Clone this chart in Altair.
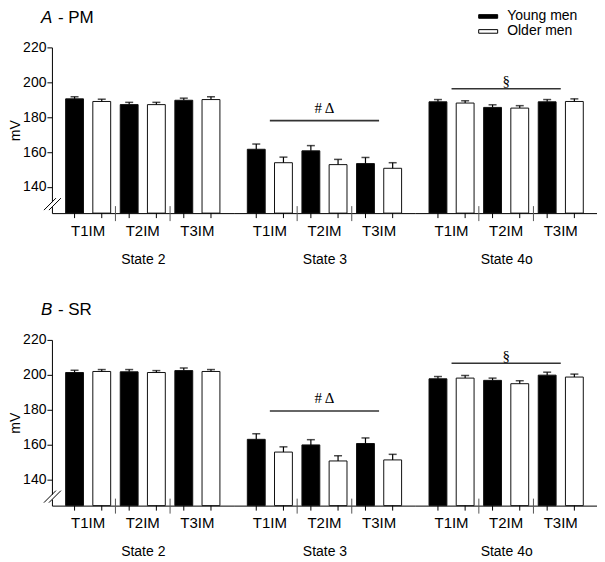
import altair as alt
import pandas as pd

times = ["T1IM", "T2IM", "T3IM"]
states = ["State 2", "State 3", "State 4o"]
groups = ["Young men", "Older men"]

# Panel A - PM  (rows: State 2, State 3, State 4o ; cols: T1IM, T2IM, T3IM)
pm_young_mean = [[190.5, 187.2, 189.7], [161.6, 160.7, 153.4], [188.8, 185.6, 188.8]]
pm_young_sem = [[1.2, 1.3, 1.2], [3.0, 3.0, 3.5], [1.3, 1.5, 1.3]]
pm_older_mean = [[189.0, 187.2, 190.1], [153.9, 152.8, 150.7], [188.1, 185.2, 189.0]]
pm_older_sem = [[1.3, 1.3, 1.6], [3.2, 3.0, 3.2], [1.3, 1.4, 1.5]]

# Panel B - SR
sr_young_mean = [[201.3, 201.7, 202.4], [163.0, 159.8, 160.6], [197.7, 196.8, 199.8]]
sr_young_sem = [[1.3, 1.3, 1.5], [3.2, 3.0, 3.2], [1.3, 1.3, 1.7]]
sr_older_mean = [[201.9, 201.3, 201.9], [155.7, 150.6, 151.2], [198.1, 194.9, 198.7]]
sr_older_sem = [[1.1, 1.1, 1.1], [3.0, 3.0, 3.2], [1.5, 1.7, 1.7]]

# significance annotations (State 3 and State 4o)
sig_states = ["State 3", "State 4o"]
sig_labels = ["# \u0394", "\u00a7"]
pm_sig_line = [178.0, 196.3]
pm_sig_text = [185.0, 200.5]
sr_sig_line = [179.2, 206.6]
sr_sig_text = [186.5, 211.0]

panel_letters = ["A", "B"]
panel_names = ["- PM", "- SR"]

Y_MIN, Y_MAX = 125, 220
W, H = 182, 166
FONT = "Liberation Sans"


def build_df(ym, ys, om, os_):
    rows = []
    for si, st in enumerate(states):
        for ti, t in enumerate(times):
            rows.append(dict(state=st, time=t, group=groups[0], mean=ym[si][ti],
                             top=ym[si][ti] + ys[si][ti]))
            rows.append(dict(state=st, time=t, group=groups[1], mean=om[si][ti],
                             top=om[si][ti] + os_[si][ti]))
    return pd.DataFrame(rows)


legend = alt.Legend(
    orient="none", legendX=430, legendY=-38, title=None,
    symbolType="M-1.9,-0.36L1.9,-0.36L1.9,0.36L-1.9,0.36Z", symbolSize=100,
    symbolStrokeColor="black", symbolStrokeWidth=1, labelFontSize=14,
    labelFont=FONT, labelColor="black", rowPadding=1, padding=0, labelOffset=12,
)


def cell(df, state, first, sig_line, sig_text, letter, name):
    d = df[df.state == state]
    xs = alt.Scale(domain=times, paddingInner=0.175, paddingOuter=0.251)
    xaxis = alt.Axis(title=state, ticks=False, labelAngle=0, labelPadding=10,
                     labelFontSize=15, titleFontSize=14, titlePadding=14,
                     titleFontWeight="normal", domainColor="black", labelColor="black",
                     titleColor="black", labelFont=FONT, titleFont=FONT, zindex=0)
    X = alt.X("time:N", scale=xs, axis=xaxis, sort=times)
    XO = alt.XOffset("group:N", sort=groups,
                     scale=alt.Scale(domain=groups, paddingInner=0.343, paddingOuter=0))
    ys = alt.Scale(domain=[Y_MIN, Y_MAX], nice=False, zero=False)
    if first:
        yaxis = alt.Axis(values=[140, 160, 180, 200, 220], title="mV", tickSize=5,
                         labelFontSize=14, titleFontSize=14, titleFontWeight="normal",
                         titlePadding=0, labelPadding=1, domainColor="black",
                         tickColor="black", labelColor="black", titleColor="black",
                         labelFont=FONT, titleFont=FONT, zindex=0, grid=False)
    else:
        yaxis = None

    bars = alt.Chart(d).mark_bar(stroke="#111", strokeWidth=1).encode(
        x=X, xOffset=XO,
        y=alt.Y("mean:Q", scale=ys, axis=yaxis), y2=alt.datum(Y_MIN),
        fill=alt.Fill("group:N", sort=groups,
                      scale=alt.Scale(domain=groups, range=["black", "white"]),
                      legend=legend),
    )
    errs = alt.Chart(d).mark_rule(color="black", strokeWidth=1.2).encode(
        x=X, xOffset=XO, y=alt.Y("mean:Q", scale=ys, axis=yaxis), y2="top:Q")
    caps = alt.Chart(d).mark_tick(color="black", thickness=1.5, size=8).encode(
        x=X, xOffset=XO, y=alt.Y("top:Q", scale=ys, axis=yaxis))
    barticks = alt.Chart(d).mark_rule(color="black", strokeWidth=1).encode(
        x=X, xOffset=XO, y=alt.value(H), y2=alt.value(H + 5))
    sep_df = pd.DataFrame({"time": times[1:]})
    seps = alt.Chart(sep_df).mark_rule(color="#555", strokeWidth=1, xOffset=-4.8).encode(
        x=alt.X("time:N", scale=xs, axis=xaxis, sort=times, bandPosition=0),
        y=alt.value(H - 7), y2=alt.value(H + 8))
    layers = [bars, errs, caps, barticks, seps]

    if sig_line is not None:
        line_df = pd.DataFrame({"time": [times[0]], "time2": [times[2]], "v": [sig_line[0]]})
        txt_df = pd.DataFrame({"time": [times[1]], "v": [sig_text[0]], "label": [sig_line[1]]})
        layers.append(alt.Chart(line_df).mark_rule(color="#333", strokeWidth=1.6).encode(
            x=alt.X("time:N", scale=xs, axis=xaxis, sort=times, bandPosition=0.5),
            x2=alt.X2("time2", bandPosition=0.5),
            y=alt.Y("v:Q", scale=ys, axis=yaxis)))
        layers.append(alt.Chart(txt_df).mark_text(font="Liberation Serif", fontSize=15,
                                                  color="black", baseline="middle").encode(
            x=X, y=alt.Y("v:Q", scale=ys, axis=yaxis), text="label:N"))

    if first:
        one = pd.DataFrame({"letter": [letter], "name": [name]})
        layers.append(alt.Chart(one).mark_text(font=FONT, fontSize=17, fontStyle="italic",
                                               align="left", baseline="middle",
                                               color="black").encode(
            x=alt.value(-11), y=alt.value(-29.5), text="letter:N"))
        layers.append(alt.Chart(one).mark_text(font=FONT, fontSize=17, align="left",
                                               baseline="middle", color="black").encode(
            x=alt.value(6), y=alt.value(-29.5), text="name:N"))
        # axis break
        layers.append(alt.Chart(one).mark_rule(color="white", strokeWidth=3).encode(
            x=alt.value(0), y=alt.value(H - 11), y2=alt.value(H - 6)))
        layers.append(alt.Chart(one).mark_rule(color="black", strokeWidth=1).encode(
            x=alt.value(-8), x2=alt.value(4), y=alt.value(H - 3), y2=alt.value(H - 15)))
        layers.append(alt.Chart(one).mark_rule(color="black", strokeWidth=1).encode(
            x=alt.value(-3), x2=alt.value(9), y=alt.value(H - 3), y2=alt.value(H - 15)))

    return alt.layer(*layers).properties(width=W, height=H)


def panel(df, sig_lines, sig_texts, letter, name):
    cells = []
    for i, st in enumerate(states):
        if st in sig_states:
            k = sig_states.index(st)
            sl = (sig_lines[k], sig_labels[k])
            stx = (sig_texts[k],)
        else:
            sl, stx = None, None
        cells.append(cell(df, st, i == 0, sl, stx, letter, name))
    return alt.hconcat(*cells, spacing=0)


df_pm = build_df(pm_young_mean, pm_young_sem, pm_older_mean, pm_older_sem)
df_sr = build_df(sr_young_mean, sr_young_sem, sr_older_mean, sr_older_sem)

chart = alt.vconcat(
    panel(df_pm, pm_sig_line, pm_sig_text, panel_letters[0], panel_names[0]),
    panel(df_sr, sr_sig_line, sr_sig_text, panel_letters[1], panel_names[1]),
    spacing=35,
).properties(padding=0).configure(
    font=FONT, view=alt.ViewConfig(stroke=None)
)

chart.save("out.html", embed_options={"renderer": "svg", "actions": False})
